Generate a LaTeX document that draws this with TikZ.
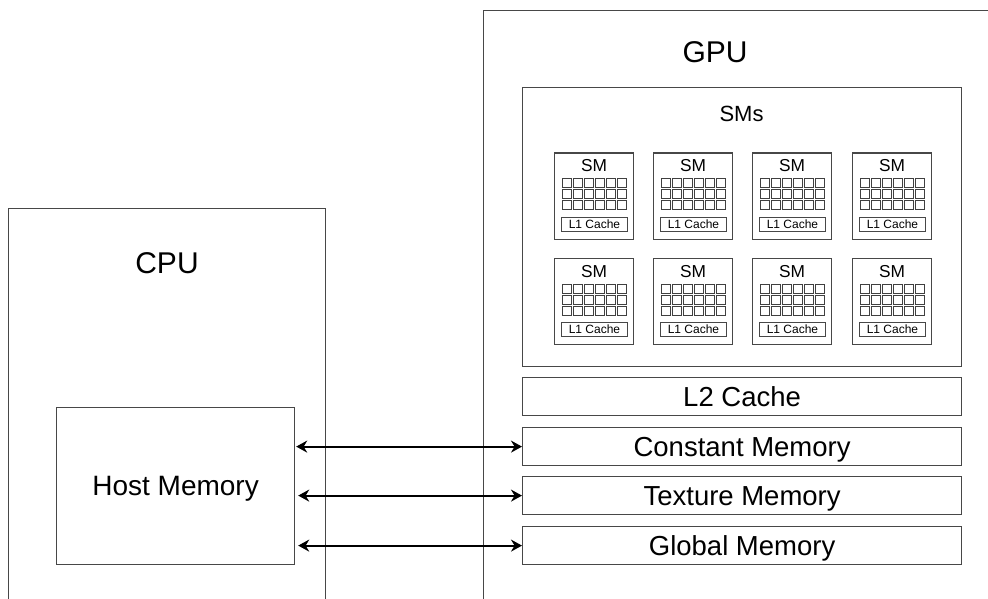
\documentclass[tikz,border=0pt]{standalone}
\usepackage{fontspec}
\setmainfont{Liberation Sans}
\usetikzlibrary{arrows.meta,calc}
\begin{document}
\begin{tikzpicture}[x=1pt,y=-1pt,
  box/.style={draw=black!72, line width=1.2pt, inner sep=0pt},
  big/.style={font=\fontsize{30}{36}\selectfont},
  mem/.style={box, minimum width=439pt, minimum height=38pt, anchor=north west, text depth=0pt, font=\fontsize{27.5}{32}\selectfont},
  smbox/.style={box, minimum width=79pt, minimum height=86pt, anchor=north west},
  cell/.style={draw=black!75, line width=0.9pt, minimum size=9.3pt, inner sep=0pt, anchor=north west},
  lone/.style={box, line width=0.9pt, minimum width=66pt, minimum height=14pt, anchor=north west, font=\fontsize{12}{14}\selectfont},
  link/.style={black, line width=2pt, {Stealth[length=11pt,width=12pt]}-{Stealth[length=11pt,width=12pt]}}
]
\useasboundingbox (0,0) rectangle (988,599);
\clip (0,0) rectangle (988,599);
\node[box, anchor=north west, minimum width=317pt, minimum height=420pt] (cpu) at (8,208) {};
\node[big] (cputitle) at (167,263) {CPU};
\node[box, anchor=north west, minimum width=600pt, minimum height=620pt] (gpu) at (482.5,10) {};
\node[big] (gputitle) at (715,52) {GPU};
\node[box, anchor=north west, minimum width=439pt, minimum height=279pt] (sms) at (522,87) {};
\node[font=\fontsize{22}{26}\selectfont] (smstitle) at (741.5,114) {SMs};
\foreach \r/\ty in {1/152.5, 2/258} {
  \foreach \c/\tx in {1/554,2/653,3/752,4/852} {
    \node[smbox] (sm\r\c) at (\tx,\ty) {};
    \node[font=\fontsize{17.3}{20}\selectfont] (smt\r\c) at ($(sm\r\c.north)+(0,13.5)$) {SM};
    \foreach \i in {0,...,5} {
      \foreach \j in {0,1,2} {
        \node[cell] (c\r\c\i\j) at ($(sm\r\c.north west)+(7.5+11*\i,25.5+11*\j)$) {};
      }
    }
    \node[lone] (lone\r\c) at ($(sm\r\c.north west)+(7,64)$) {L1 Cache};
  }
}
\node[mem] (l2) at (522,377) {L2 Cache};
\node[mem] (cm) at (522,427) {Constant Memory};
\node[mem] (tm) at (522,476) {Texture Memory};
\node[mem] (gm) at (522,526) {Global Memory};
\node[box, anchor=north west, minimum width=238pt, minimum height=157pt, text depth=0pt, font=\fontsize{28}{33}\selectfont] (host) at (56,407) {Host Memory};
\draw[link] ($(host.east |- cm.west)+(1,0)$) -- (cm.west);
\draw[link] ($(host.east |- tm.west)+(3,0)$) -- (tm.west);
\draw[link] ($(host.east |- gm.west)+(3,0)$) -- (gm.west);
\end{tikzpicture}
\end{document}
